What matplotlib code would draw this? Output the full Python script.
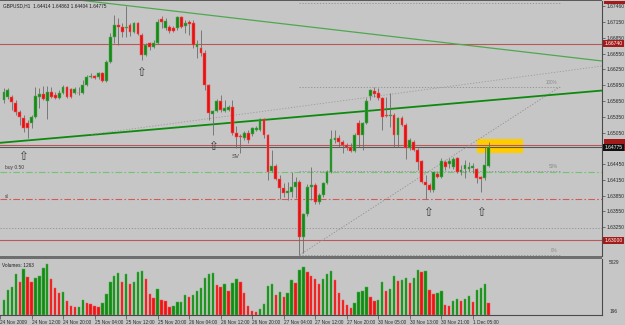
import numpy as np
import matplotlib
matplotlib.use("Agg")
import matplotlib.pyplot as plt
from matplotlib.patches import Rectangle
import matplotlib.transforms as mtransforms

plt.rcParams["font.family"] = ["Liberation Sans", "DejaVu Sans"]

# ── data: GBPUSD H1 bars, 24 Nov 05:00 .. 1 Dec 09:00 ─────────────────────────
OPEN = [1.65668, 1.65725, 1.65725, 1.65611, 1.65440, 1.65326, 1.65231, 1.65231, 1.65345, 1.65725,
        1.65782, 1.65649, 1.65820, 1.65763, 1.65706, 1.65801, 1.65915, 1.65877, 1.65801, 1.65801,
        1.65801, 1.65953, 1.66105, 1.66124, 1.66105, 1.66181, 1.66029, 1.66390, 1.66865, 1.67093,
        1.67055, 1.67036, 1.67093, 1.66960, 1.67131, 1.66903, 1.66523, 1.66751, 1.66675, 1.66751,
        1.67207, 1.67036, 1.67055, 1.67036, 1.67036, 1.67245, 1.67074, 1.67150, 1.67131, 1.66675,
        1.66656, 1.66561, 1.65953, 1.65402, 1.65459, 1.65649, 1.65459, 1.65478, 1.65535, 1.65041,
        1.64984, 1.64946, 1.65041, 1.65022, 1.65098, 1.65098, 1.65307, 1.65003, 1.64319, 1.64414,
        1.64167, 1.63996, 1.63901, 1.63920, 1.64015, 1.64110, 1.63065, 1.63502, 1.64015, 1.64053,
        1.63730, 1.63863, 1.64091, 1.64300, 1.64908, 1.64946, 1.64870, 1.64813, 1.64775, 1.64699,
        1.65231, 1.65003, 1.65231, 1.65744, 1.65839, 1.65801, 1.65706, 1.65383, 1.65364, 1.65383,
        1.65003, 1.65326, 1.65193, 1.64756, 1.64870, 1.64718, 1.64509, 1.64110, 1.64053, 1.63958,
        1.64262, 1.64205, 1.64490, 1.64452, 1.64395, 1.64566, 1.64300, 1.64357, 1.64357, 1.64376,
        1.64357, 1.64205, 1.64186, 1.64414]
HIGH = [1.65896, 1.65896, 1.65763, 1.65668, 1.65478, 1.65383, 1.65288, 1.65383, 1.65915, 1.65896,
        1.65934, 1.65934, 1.65915, 1.65820, 1.65858, 1.65953, 1.65934, 1.65896, 1.65915, 1.65915,
        1.66048, 1.66143, 1.66181, 1.66143, 1.66200, 1.66200, 1.66428, 1.66941, 1.67283, 1.67226,
        1.67131, 1.67454, 1.67131, 1.67150, 1.67150, 1.66941, 1.66751, 1.66770, 1.66808, 1.67207,
        1.67264, 1.67226, 1.67093, 1.67074, 1.67264, 1.67264, 1.67188, 1.67188, 1.67188, 1.66808,
        1.66998, 1.66618, 1.65972, 1.65478, 1.65687, 1.65763, 1.65668, 1.65573, 1.65668, 1.65174,
        1.65022, 1.65079, 1.65098, 1.65155, 1.65174, 1.65326, 1.65326, 1.65022, 1.64718, 1.64452,
        1.64243, 1.64091, 1.64110, 1.64300, 1.64205, 1.64148, 1.63521, 1.64072, 1.64395, 1.64091,
        1.63901, 1.64110, 1.64338, 1.65098, 1.65098, 1.65003, 1.64908, 1.64851, 1.64851, 1.65041,
        1.65288, 1.65250, 1.65706, 1.65877, 1.65915, 1.65896, 1.65725, 1.65725, 1.65801, 1.65421,
        1.65345, 1.65364, 1.65231, 1.64946, 1.64908, 1.64756, 1.64528, 1.64243, 1.64091, 1.64300,
        1.64300, 1.64566, 1.64528, 1.64566, 1.64585, 1.64585, 1.64433, 1.64528, 1.64490, 1.64471,
        1.64376, 1.64224, 1.64775, 1.64863]
LOW = [1.65611, 1.65687, 1.65478, 1.65383, 1.65193, 1.65060, 1.64946, 1.65136, 1.65326, 1.65516,
       1.65668, 1.65307, 1.65706, 1.65687, 1.65687, 1.65782, 1.65706, 1.65706, 1.65782, 1.65763,
       1.65782, 1.65934, 1.66086, 1.66067, 1.66067, 1.66010, 1.66010, 1.66371, 1.66751, 1.66713,
       1.66865, 1.66865, 1.66884, 1.66941, 1.66903, 1.66428, 1.66504, 1.66618, 1.66656, 1.66732,
       1.67036, 1.66998, 1.66941, 1.66960, 1.66998, 1.67036, 1.66941, 1.66903, 1.66656, 1.66466,
       1.66504, 1.65858, 1.65288, 1.65003, 1.65440, 1.65440, 1.65440, 1.65459, 1.65003, 1.64756,
       1.64661, 1.64908, 1.64851, 1.64984, 1.65079, 1.65079, 1.64946, 1.64148, 1.64300, 1.64148,
       1.63787, 1.63825, 1.63768, 1.63825, 1.63806, 1.62723, 1.62761, 1.63464, 1.63768, 1.63692,
       1.63692, 1.63825, 1.64072, 1.64281, 1.64851, 1.64775, 1.64661, 1.64718, 1.64680, 1.64680,
       1.64775, 1.64718, 1.65212, 1.65668, 1.65725, 1.65668, 1.65098, 1.65345, 1.65155, 1.64775,
       1.64775, 1.65174, 1.64547, 1.64718, 1.64699, 1.64338, 1.64091, 1.63787, 1.63920, 1.63920,
       1.64186, 1.64186, 1.64338, 1.64376, 1.64357, 1.64281, 1.64243, 1.64186, 1.64319, 1.64281,
       1.64091, 1.63920, 1.64148, 1.64404]
CLOSE = [1.65820, 1.65858, 1.65630, 1.65440, 1.65345, 1.65136, 1.65136, 1.65345, 1.65744, 1.65782,
         1.65687, 1.65820, 1.65725, 1.65706, 1.65801, 1.65915, 1.65725, 1.65725, 1.65877, 1.65795,
         1.65953, 1.66105, 1.66124, 1.66086, 1.66181, 1.66029, 1.66390, 1.66865, 1.67093, 1.67055,
         1.66960, 1.67055, 1.66960, 1.67131, 1.66922, 1.66523, 1.66713, 1.66675, 1.66751, 1.67150,
         1.67150, 1.67169, 1.66979, 1.66979, 1.67245, 1.67055, 1.67131, 1.67112, 1.66713, 1.66732,
         1.66561, 1.65953, 1.65421, 1.65459, 1.65649, 1.65478, 1.65516, 1.65535, 1.65041, 1.64965,
         1.64965, 1.65041, 1.64908, 1.65136, 1.65136, 1.65307, 1.65003, 1.64300, 1.64414, 1.64167,
         1.63996, 1.63901, 1.63939, 1.64015, 1.64110, 1.63065, 1.63502, 1.64015, 1.64053, 1.63730,
         1.63863, 1.64091, 1.64300, 1.64927, 1.64946, 1.64870, 1.64813, 1.64775, 1.64699, 1.65003,
         1.65003, 1.65231, 1.65649, 1.65858, 1.65782, 1.65706, 1.65345, 1.65364, 1.65383, 1.65003,
         1.65326, 1.65193, 1.64756, 1.64908, 1.64718, 1.64490, 1.64110, 1.64053, 1.63958, 1.64300,
         1.64205, 1.64509, 1.64395, 1.64509, 1.64547, 1.64300, 1.64338, 1.64433, 1.64395, 1.64414,
         1.64186, 1.64167, 1.64433, 1.64775]
VOLUME = [1500, 2500, 2800, 4100, 3300, 4600, 3800, 3300, 3700, 3900,
          4700, 5100, 3600, 2700, 2200, 2300, 1400, 900, 800, 850,
          1500, 1200, 1100, 900, 850, 1200, 2100, 3300, 3900, 4200,
          3300, 4100, 3100, 3300, 4300, 4400, 3600, 2100, 1700, 2600,
          1500, 1450, 800, 900, 1300, 1350, 2000, 1800, 2000, 2400,
          2700, 3700, 4100, 4200, 3000, 2800, 3100, 2400, 3200, 3600,
          3300, 2200, 900, 400, 350, 600, 1100, 2900, 3100, 2000,
          2300, 1800, 2200, 3500, 3200, 4500, 4800, 4300, 3900, 3600,
          3100, 3600, 4100, 4400, 3500, 2200, 1500, 1000, 700, 1200,
          2300, 2400, 2800, 1800, 1400, 1500, 3300, 2400, 2600, 3900,
          3400, 3500, 3700, 3200, 3700, 4500, 4300, 4400, 2500, 2100,
          2200, 2400, 1000, 900, 1400, 1600, 1400, 1600, 1900, 1300,
          2500, 2700, 3100, 1200]

TIME_TICKS = [-1, 7, 15, 23, 31, 39, 47, 55, 63, 71, 79, 87, 95, 103, 111, 119]
TIME_LABELS = ["24 Nov 2009", "24 Nov 12:00", "24 Nov 20:00", "25 Nov 04:00",
               "25 Nov 12:00", "25 Nov 20:00", "26 Nov 04:00", "26 Nov 12:00",
               "26 Nov 20:00", "27 Nov 04:00", "27 Nov 12:00", "27 Nov 20:00",
               "30 Nov 05:00", "30 Nov 13:00", "30 Nov 21:00", "1 Dec 05:00"]
PRICE_TICKS = [1.67460, 1.67150, 1.66850, 1.66550, 1.66250, 1.65950, 1.65650,
               1.65350, 1.65050, 1.64450, 1.64150, 1.63850, 1.63550, 1.63250]

RED_LEVELS = [1.66740, 1.64810, 1.63000]
RED_TAGS = [1.66740, 1.63000]
BID = 1.64775
BUY_LEVEL = 1.64300
SL_LEVEL = 1.63787
GRAY_LEVEL = 1.63236

FIB_START, FIB_END = 75, 141
FIB_LOW, FIB_HIGH = 1.62723, 1.65915
FIB_RATIOS = [0.0, 0.5, 1.0, 1.5]
FIB_LABELS = ["0%", "50%", "100%", "150%"]

UPPER_TL = ([23.4, 151.8], [1.67530, 1.66409])
LOWER_TL = ([-0.63, 151.8], [1.64857, 1.65848])
DOTTED_TL = ([22.2, 151.8], [1.65016, 1.66314])

ARROW_X = [4.9, 34.8, 53.0, 107.7, 121.1]
ARROW_Y = [1.64585, 1.66181, 1.64775, 1.63540, 1.63540]
BOX_X = (120.1, 131.8)
BOX_Y = (1.64661, 1.64927)

# ── figure ────────────────────────────────────────────────────────────────────
W, H = 625, 325
BG = "#c6c6c6"
AXC = "#4a4a4a"
fig = plt.figure(figsize=(W / 100, H / 100), dpi=100)
fig.patch.set_facecolor(BG)

ax = fig.add_axes([0, 1 - 256 / H, 602 / W, 255 / H])
vax = fig.add_axes([0, 1 - 315 / H, 602 / W, 56 / H], sharex=ax)
for a in (ax, vax):
    a.set_facecolor(BG)
    for s in a.spines.values():
        s.set_visible(False)
    a.spines["right"].set_visible(True)
    a.spines["right"].set_color(AXC)
    a.spines["right"].set_linewidth(0.8)

ax.set_xlim(-0.633, 151.77)
ax.set_ylim(1.62704, 1.67549)

x = np.arange(len(OPEN))
o, h, l, c = map(np.array, (OPEN, HIGH, LOW, CLOSE))
up = c >= o

# horizontal levels
for lv in RED_LEVELS:
    ax.axhline(lv, color="#b85858", lw=0.8, zorder=2)
ax.axhline(BID, color="#585858", lw=0.8, zorder=2)
ax.axhline(BUY_LEVEL, color="#72c472", lw=0.8, ls=(0, (6, 2, 1.5, 2)), zorder=2)
ax.axhline(SL_LEVEL, color="#d45a5a", lw=0.8, ls=(0, (6, 2, 1.5, 2)), zorder=2)
ax.axhline(GRAY_LEVEL, color="#8e8e8e", lw=0.6, ls=(0, (1.5, 2)), zorder=2)

# fibonacci
rng = FIB_HIGH - FIB_LOW
for r, lab in zip(FIB_RATIOS, FIB_LABELS):
    lv = FIB_LOW + r * rng
    ax.plot([FIB_START, FIB_END], [lv, lv], color="#8e8e8e", lw=0.6,
            ls=(0, (1.5, 2)), zorder=2)
    if lv < 1.6745:
        ax.text(FIB_END - 0.5, lv + 0.0004, lab, fontsize=3.3, color="#8a8a8a",
                ha="right", va="bottom", zorder=3)
ax.plot([FIB_START, FIB_END], [FIB_LOW, FIB_HIGH], color="#8e8e8e", lw=0.6,
        ls=(0, (1.5, 2)), zorder=2)

# trend lines (extended through the axes)
def extend(pts, a, **kw):
    (x0, x1), (y0, y1) = pts
    k = (y1 - y0) / (x1 - x0)
    xs = np.array([-5, 160])
    a.plot(xs, y0 + k * (xs - x0), **kw)

extend(UPPER_TL, ax, color="#4fa84f", lw=0.9, zorder=2)
extend(LOWER_TL, ax, color="#0d8a0d", lw=1.3, zorder=2)
(dx0, dx1), (dy0, dy1) = DOTTED_TL
ax.plot([dx0, dx1], [dy0, dy1], color="#9a9a9a", lw=0.6, ls=(0, (1.5, 2)), zorder=2)

# highlight box
ax.add_patch(Rectangle((BOX_X[0], BOX_Y[0]), BOX_X[1] - BOX_X[0],
                       BOX_Y[1] - BOX_Y[0], fc="#ffcc00", ec="none", zorder=1))

# candles
ax.vlines(x, l, h, color="#6c6c6c", lw=0.6, zorder=4)
body = np.maximum(np.abs(c - o), 0.00003)
ax.bar(x[up], body[up], bottom=np.minimum(o, c)[up], width=0.72,
       color="#168a16", edgecolor="#5cad5c", lw=0.35, zorder=5)
ax.bar(x[~up], body[~up], bottom=np.minimum(o, c)[~up], width=0.72,
       color="#e61212", edgecolor="#f25a5a", lw=0.35, zorder=5)

# arrows and text marks
for ax_x, ax_y in zip(ARROW_X, ARROW_Y):
    ax.text(ax_x, ax_y, "\u21e7", fontsize=8.5, color="#3c3c3c",
            ha="center", va="center", family="DejaVu Sans", zorder=6)
ax.text(58.9, 1.64604, "SV", fontsize=4.3, color="#4a4a4a", ha="center", va="center")
ax.text(0.2, 1.64376, "buy 0.50", fontsize=3.5, color="#3a3a3a", ha="left", va="center")
ax.text(0.2, 1.63844, "sl", fontsize=3.5, color="#3a3a3a", ha="left", va="center")
ax.text(0.005, 0.993, "GBPUSD,H1  1.64414 1.64863 1.64404 1.64775",
        transform=ax.transAxes, fontsize=3.4, color="#1e1e1e", ha="left", va="top")

# price axis
ax.yaxis.tick_right()
ax.set_yticks(PRICE_TICKS)
ax.set_yticklabels([f"{p:.5f}" for p in PRICE_TICKS])
ax.tick_params(axis="y", direction="out", length=2, width=0.5, pad=1.2,
               labelsize=3.6, colors=AXC, labelcolor="#2a2a2a")
ax.tick_params(axis="x", bottom=False, labelbottom=False)

tr = mtransforms.blended_transform_factory(ax.transAxes, ax.transData)
# red tag of the 1.64810 line, mostly hidden behind the bid tag
ax.add_patch(Rectangle((1.003, 1.64810 - 0.00120), 0.035, 0.00240, transform=tr,
                       fc="#a31a1a", ec="none", clip_on=False, zorder=7))
ax.add_patch(Rectangle((1.003, 1.67549 - 0.00060), 0.035, 0.00060, transform=tr,
                       fc="#a31a1a", ec="none", clip_on=False, zorder=7))
for lv in RED_TAGS:
    ax.text(1.004, lv, f"{lv:.5f}", transform=tr, fontsize=3.6, color="white",
            ha="left", va="center", clip_on=False, zorder=7,
            bbox=dict(boxstyle="square,pad=0.25", fc="#a31a1a", ec="none"))
ax.text(1.004, BID - 0.00005, f"{BID:.5f}", transform=tr, fontsize=3.6, color="white",
        ha="left", va="center", clip_on=False, zorder=8,
        bbox=dict(boxstyle="square,pad=0.25", fc="#101010", ec="none"))

# volumes
vax.set_ylim(0, 5600)
v = np.array(VOLUME)
vup = np.r_[True, v[1:] > v[:-1]]
vax.bar(x[vup], v[vup], width=0.6, color="#128c12", edgecolor="#4fae4f", lw=0.35)
vax.bar(x[~vup], v[~vup], width=0.6, color="#ee1414", edgecolor="#f45858", lw=0.35)
vax.spines["bottom"].set_visible(True)
vax.spines["bottom"].set_color(AXC)
vax.spines["bottom"].set_linewidth(0.8)
vax.set_yticks([])
vax.set_xticks(TIME_TICKS)
vax.set_xticklabels(TIME_LABELS, ha="left")
vax.tick_params(axis="x", direction="out", length=3, width=0.5, pad=0.5,
                labelsize=3.4, colors=AXC, labelcolor="#2a2a2a")
vax.text(0.004, 0.93, "Volumes: 1263", transform=vax.transAxes, fontsize=3.4,
         color="#1e1e1e", ha="left", va="top")
vax.text(1.012, 0.94, "5029", transform=vax.transAxes, fontsize=3.4,
         color="#2a2a2a", ha="left", va="center", clip_on=False)
vax.text(1.012, 0.06, "196", transform=vax.transAxes, fontsize=3.4,
         color="#2a2a2a", ha="left", va="center", clip_on=False)

# pane separator and top border
fig.patches.append(Rectangle((0, 1 - 259 / H), 602 / W, 3 / H, transform=fig.transFigure,
                             fc="#6e6e6e", ec="none"))
fig.patches.append(Rectangle((0, 1 - 1.2 / H), 602 / W, 1.2 / H, transform=fig.transFigure,
                             fc="#5a5a5a", ec="none"))

fig.savefig("out.png", dpi=100, facecolor=BG)
